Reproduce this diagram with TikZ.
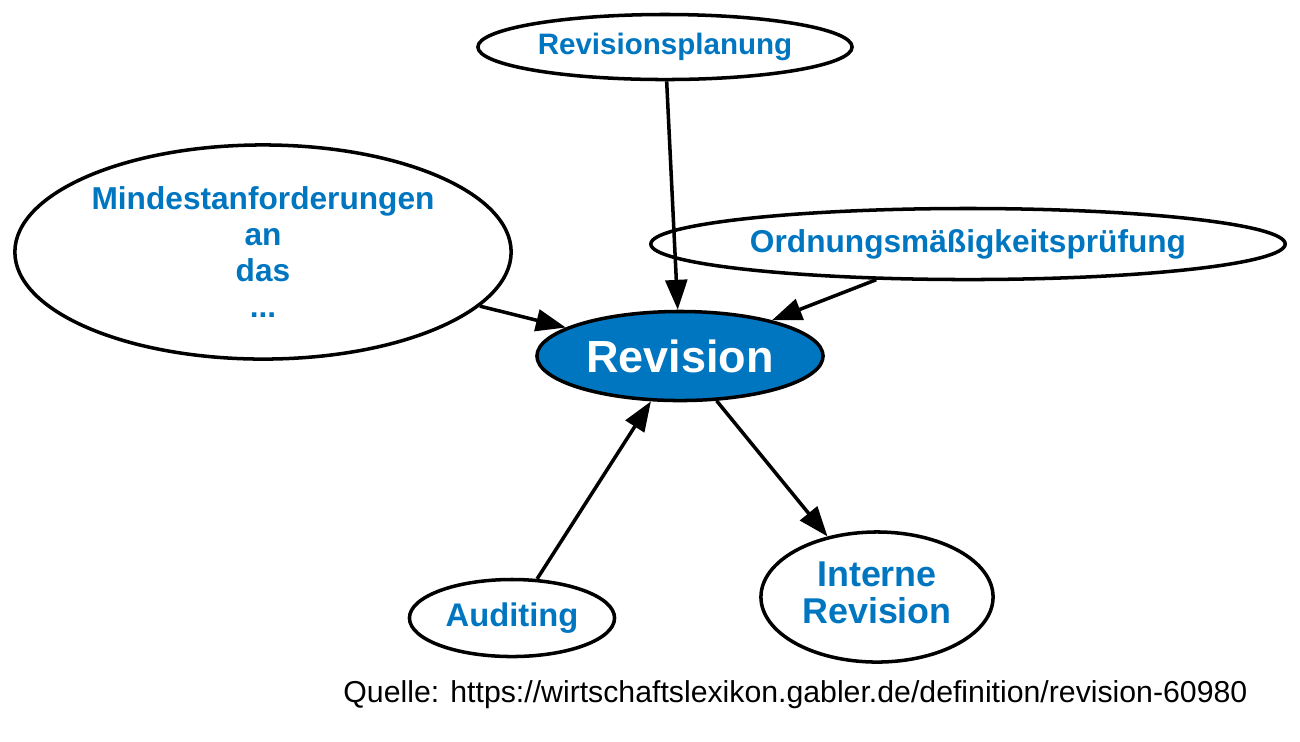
\documentclass[tikz,border=0pt]{standalone}
\usepackage{fontspec}
\setmainfont{Liberation Sans}[Ligatures=NoCommon]
\usetikzlibrary{shapes.geometric,arrows.meta}
\definecolor{gablerblue}{RGB}{0,118,192}

\begin{document}
\begin{tikzpicture}[x=0.01cm,y=-0.01cm,
		topic/.style={ellipse,draw,line width=1pt,inner sep=0pt,text=gablerblue,align=center},
		link/.style={-{Triangle[length=8.5pt,width=6.2pt]},line width=1pt}]
		\useasboundingbox (0,0) rectangle (1300,741);
		\node[topic,minimum width=3.74cm,minimum height=0.65cm,font=\fontsize{8.4}{10}\selectfont\bfseries] (planung) at (665,47) {Revisionsplanung};
		\node[topic,minimum width=4.96cm,minimum height=2.14cm,font=\fontsize{9}{10.3}\selectfont\bfseries] (mindest) at (263,252) {Mindestanforderungen\\an\\das\\...};
		\node[topic,minimum width=6.34cm,minimum height=0.71cm,font=\fontsize{9}{10}\selectfont\bfseries] (ordnung) at (968,244) {Ordnungsmäßigkeitsprüfung};
		\node[topic,fill=gablerblue,text=white,minimum width=2.86cm,minimum height=0.89cm,font=\fontsize{12.8}{14}\selectfont\bfseries] (revision) at (680,356) {Revision};
		\node[topic,minimum width=2.05cm,minimum height=0.77cm,font=\fontsize{9.3}{10}\selectfont\bfseries] (auditing) at (512,618) {Auditing};
		\node[topic,minimum width=2.32cm,minimum height=1.3cm,font=\fontsize{10.2}{10.5}\selectfont\bfseries] (interne) at (877,597) {Interne\\Revision\rule{0pt}{0pt}\vspace{0.08cm}};
		\node[anchor=base east,inner sep=0pt,font=\fontsize{8.6}{10}\selectfont] (quelle) at (1248,702) {Quelle: https://wirtschaftslexikon.gabler.de/definition/revision-60980};
		% edges
		\draw[link] (planung) -- (revision);
		\draw[link] (mindest) -- (revision);
		\draw[link] (ordnung) -- (revision);
		\draw[link] (auditing) -- (revision);
		\draw[link] (revision) -- (interne);
	\end{tikzpicture}
\end{document}
